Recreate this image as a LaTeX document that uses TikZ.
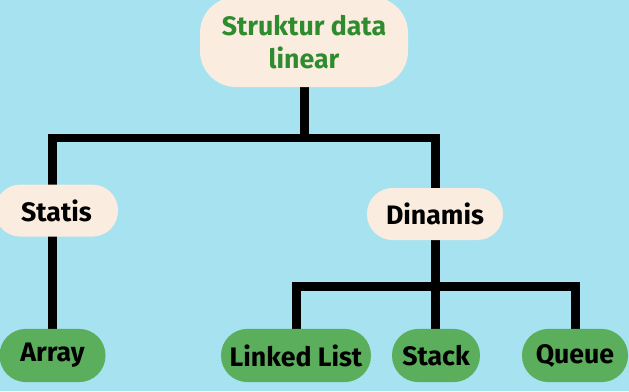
\documentclass[tikz,border=0pt]{standalone}
\usepackage{fontspec}
\setmainfont{Fira Sans}
\definecolor{SkyBack}{HTML}{A6E2F0}
\definecolor{CreamBox}{HTML}{FAEDE0}
\definecolor{LeafGreen}{HTML}{5BAE5B}
\definecolor{TitleGreen}{HTML}{2E8B2E}
\usetikzlibrary{backgrounds}

\begin{document}
\begin{tikzpicture}[
    pill/.style={rounded corners=0.64cm, minimum height=1.3cm, inner sep=0pt, font=\fontsize{19}{22}\selectfont\bfseries},
    cream/.style={pill, fill=CreamBox},
    leaf/.style={pill, fill=LeafGreen, minimum height=1.33cm, rounded corners=0.66cm},
    link/.style={line width=6.4pt, black}]
  \useasboundingbox (0,0) rectangle (15.725,9.775);
  % top level
  \node[cream, text=TitleGreen, align=center, minimum width=5.2cm, minimum height=2.25cm,
        rounded corners=0.9cm, font=\fontsize{19}{24}\selectfont\bfseries] (linear) at (7.6,8.725) {Struktur data\\linear};
  % second level
  \node[cream, minimum width=3.08cm] (statis) at (1.41,4.51) {Statis};
  \node[cream, minimum width=3.4cm] (dinamis) at (10.875,4.425) {Dinamis};
  % leaves
  \node[leaf, minimum width=2.65cm] (array) at (1.3125,0.8875) {Array};
  \node[leaf, minimum width=3.75cm] (linked) at (7.4,0.8875) {Linked List};
  \node[leaf, minimum width=2.2cm] (stack) at (10.9,0.8875) {Stack};
  \node[leaf, minimum width=2.65cm] (queue) at (14.375,0.8875) {Queue};
  \coordinate (upjoin) at (7.6,6.325);
  \coordinate (lowjoin) at (10.875,2.625);
  \begin{scope}[on background layer]
    \fill[SkyBack] (0,0) rectangle (15.725,9.775);
    \draw[link] (linear) -- (upjoin);
    \draw[link] (array) |- (upjoin) -| (dinamis);
    \draw[link] (linked) |- (lowjoin) -| (queue);
    \draw[link] (dinamis) -- (dinamis |- stack.north);
  \end{scope}
\end{tikzpicture}
\end{document}
